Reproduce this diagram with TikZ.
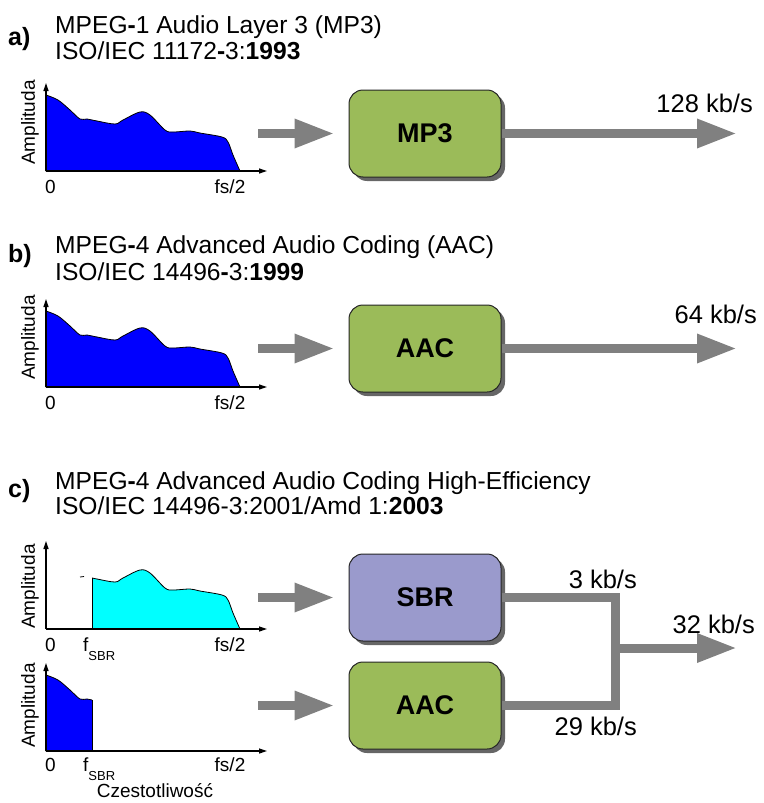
\documentclass[tikz,border=0pt]{standalone}
\usepackage{fontspec}
\setmainfont{Liberation Sans}
\usetikzlibrary{arrows.meta,shadows}
\definecolor{boxgreen}{HTML}{9BBB59}
\definecolor{boxlilac}{HTML}{9A9ACC}
\definecolor{flowgray}{HTML}{808080}
\definecolor{bandcyan}{HTML}{00FFFF}
\definecolor{bandblue}{HTML}{0000FF}
\tikzset{
  coder/.style={draw=black!85, line width=1pt, rounded corners=14pt,
    minimum width=152pt, minimum height=87pt,
    font=\fontsize{27}{31}\selectfont\bfseries,
    drop shadow={shadow xshift=4pt, shadow yshift=-4pt, fill=black!60, opacity=1}},
  flowline/.style={draw=flowgray, line width=9pt},
  flow/.style={flowline, -{Triangle[length=40pt,width=27pt]}},
  axis/.style={line width=1.2pt, -{Triangle[length=8pt,width=5pt]}},
  spec/.style={draw=black, line width=0.8pt},
  title/.style={anchor=base west, inner sep=0pt, font=\fontsize{24.6}{28}\selectfont},
  panel/.style={anchor=base west, inner sep=0pt, font=\fontsize{25}{28}\selectfont\bfseries},
  rate/.style={anchor=base east, inner sep=0pt, font=\fontsize{25.5}{30}\selectfont},
  tick/.style={anchor=base, inner sep=0pt, font=\fontsize{19}{22}\selectfont},
  amp/.style={rotate=90, anchor=west, inner sep=0pt, font=\fontsize{19}{22}\selectfont}
}
% spectrum outline, relative to the axis origin
\newcommand{\spectrum}{-- plot[smooth, tension=0.55] coordinates {(0,-76) (12,-71) (24,-61) (34,-52) (41,-52) (51,-50) (69,-47) (77,-51) (94,-59) (104,-56) (119,-41) (127,-39) (144,-40) (154,-38) (176,-34) (182,-29) (187,-16) (194,0)}}
\newcommand{\fsbr}{f\raisebox{-9pt}{\fontsize{13}{13}\selectfont SBR}}

\begin{document}
\begin{tikzpicture}[x=1pt, y=-1pt]
	\useasboundingbox (0,0) rectangle (763,803);

	% a) MP3
	\node[panel] (pa) at (8,45) {a)};
	\node[title] (ta1) at (55,33) {MPEG\textbf{-}1 Audio Layer 3 (MP3)};
	\node[title] (ta2) at (55,59) {ISO/IEC 11172\textbf{-}3:\textbf{1993}};
	\begin{scope}[shift={(46,171)}]
		\filldraw[spec, fill=bandblue] (0,0) \spectrum -- cycle;
		\draw[axis] (0,0) -- (0,-88);
		\draw[axis] (0,0) -- (221,0);
		\node[amp] (ampa) at (-16,-6) {Amplituda};
		\node[tick] (zeroa) at (4.5,22) {0};
		\node[tick] (fsa) at (184,22) {fs/2};
	\end{scope}
	\node[coder, fill=boxgreen] (mp3) at (425,133.5) {MP3};
	\coordinate (ina) at (258,133.5);
	\coordinate (outa) at (737,133.5);
	\draw[flow, shorten >=14pt] (ina) -- (mp3.west);
	\draw[flow] (mp3.east) -- (outa);
	\node[rate] (ratea) at (753,112) {128 kb/s};

	% b) AAC
	\node[panel] (pb) at (8,262) {b)};
	\node[title] (tb1) at (55,253) {MPEG\textbf{-}4 Advanced Audio Coding (AAC)};
	\node[title] (tb2) at (55,280) {ISO/IEC 14496\textbf{-}3:\textbf{1999}};
	\begin{scope}[shift={(46,387)}]
		\filldraw[spec, fill=bandblue] (0,0) \spectrum -- cycle;
		\draw[axis] (0,0) -- (0,-88);
		\draw[axis] (0,0) -- (221,0);
		\node[amp] (ampb) at (-16,-7) {Amplituda};
		\node[tick] (zerob) at (4.5,22) {0};
		\node[tick] (fsb) at (184,22) {fs/2};
	\end{scope}
	\node[coder, fill=boxgreen] (aac) at (425,348.5) {AAC};
	\coordinate (inb) at (258,348.5);
	\coordinate (outb) at (737,348.5);
	\draw[flow, shorten >=14pt] (inb) -- (aac.west);
	\draw[flow] (aac.east) -- (outb);
	\node[rate] (rateb) at (757,323) {64 kb/s};

	% c) HE-AAC
	\node[panel] (pc) at (8,497) {c)};
	\node[title] (tc1) at (55,489) {MPEG\textbf{-}4 Advanced Audio Coding High-Efficiency};
	\node[title] (tc2) at (55,514) {ISO/IEC 14496-3:2001/Amd 1:\textbf{2003}};
	% upper band
	\begin{scope}[shift={(46,629)}]
		\begin{scope}
			\clip (46,10) rectangle (230,-100);
			\filldraw[spec, fill=bandcyan] (0,0) \spectrum -- cycle;
		\end{scope}
		\draw[spec] (46,0) -- (46,-51);
		\draw[line width=0.8pt] (34,-52) -- (38,-52.5);
		\draw[axis] (0,0) -- (0,-88);
		\draw[axis] (0,0) -- (221,0);
		\node[amp] (ampc) at (-16,0) {Amplituda};
		\node[tick] (zeroc) at (4.5,22) {0};
		\node[tick, anchor=base west] (fsbrc) at (37,22) {\fsbr};
		\node[tick] (fsc) at (184,22) {fs/2};
	\end{scope}
	% lower band
	\begin{scope}[shift={(46,751)}]
		\begin{scope}
			\clip (-5,10) rectangle (46,-100);
			\filldraw[spec, fill=bandblue] (0,0) \spectrum -- cycle;
		\end{scope}
		\draw[spec] (46,0) -- (46,-51);
		\draw[axis] (0,0) -- (0,-88);
		\draw[axis] (0,0) -- (221,0);
		\node[amp] (ampd) at (-16,-3) {Amplituda};
		\node[tick] (zerod) at (4.5,20) {0};
		\node[tick, anchor=base west] (fsbrd) at (37,20) {\fsbr};
		\node[tick] (fsd) at (184,20) {fs/2};
		\node[tick] (freq) at (109,46) {Czestotliwość};
	\end{scope}
	\node[coder, fill=boxlilac] (sbr) at (425,597.5) {SBR};
	\node[coder, fill=boxgreen] (aache) at (425,705.5) {AAC};
	\coordinate (inc) at (258,597.5);
	\coordinate (ind) at (258,705.5);
	\coordinate (join) at (615,648);
	\coordinate (outc) at (737,648);
	\draw[flow, shorten >=14pt] (inc) -- (sbr.west);
	\draw[flow, shorten >=14pt] (ind) -- (aache.west);
	\draw[flowline] (sbr.east) -| (join) |- (aache.east);
	\draw[flow] (join) -- (outc);
	\node[rate] (ratec) at (637,588) {3 kb/s};
	\node[rate] (rated) at (755,633) {32 kb/s};
	\node[rate] (ratee) at (637,735) {29 kb/s};
\end{tikzpicture}
\end{document}
